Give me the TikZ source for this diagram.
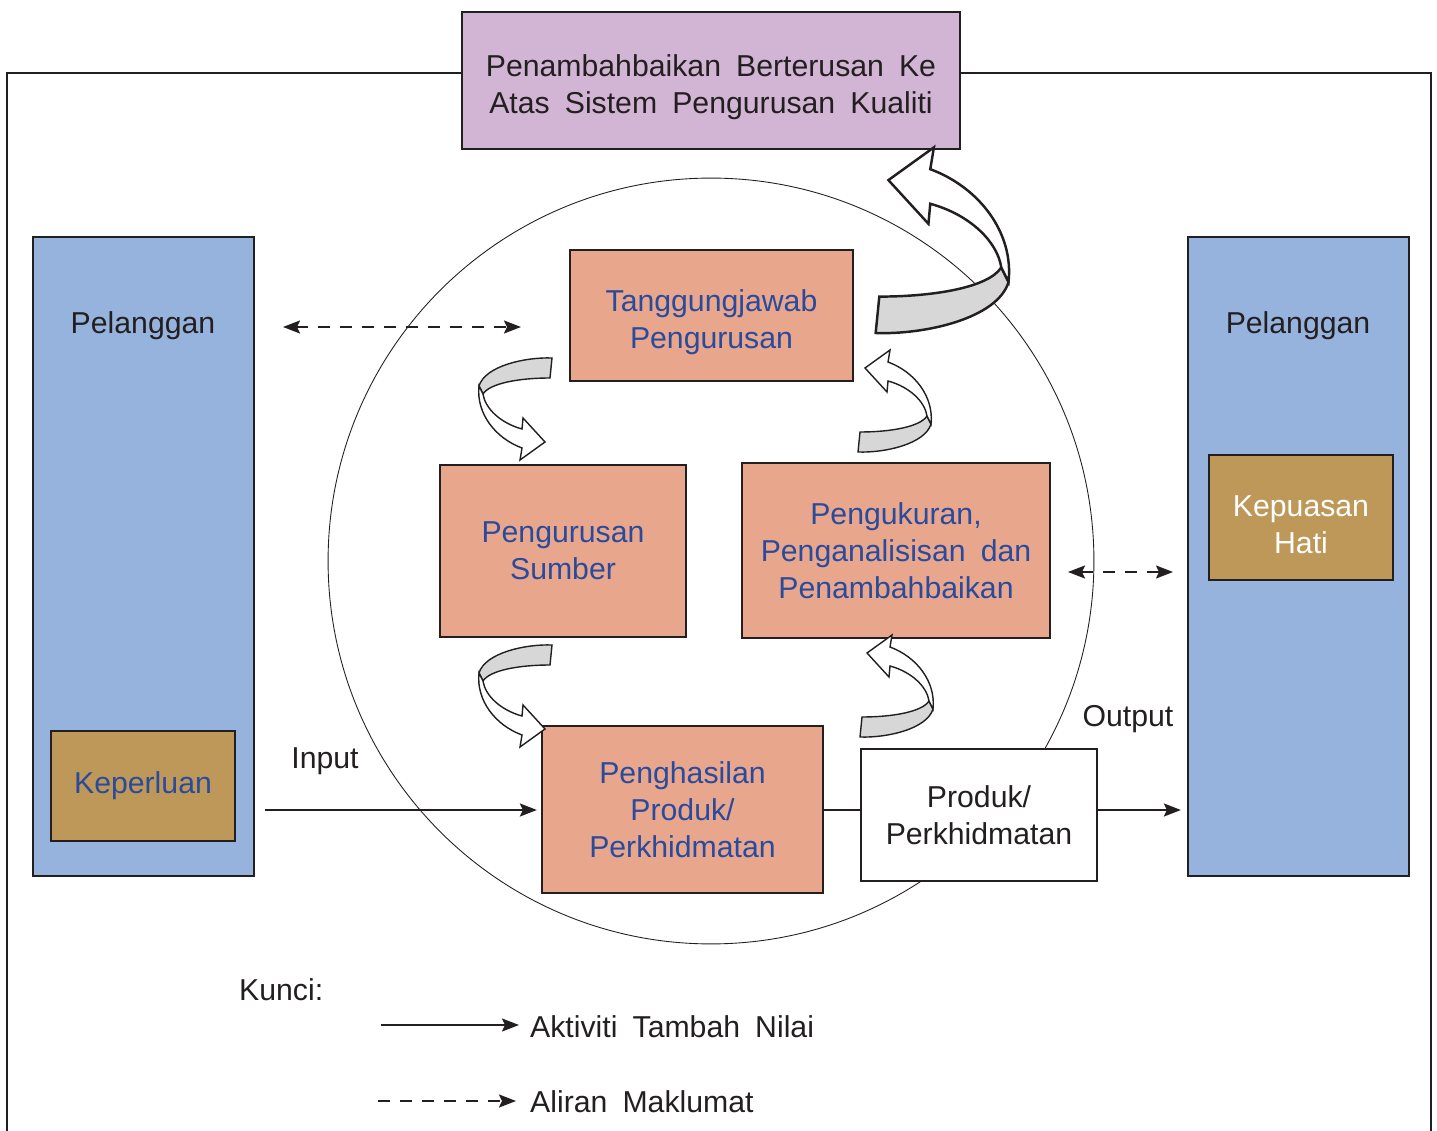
\documentclass[tikz,border=0pt]{standalone}
\usepackage{fontspec}
\setmainfont{Liberation Sans}[WordSpace=1.8]
\usetikzlibrary{arrows.meta}

\definecolor{custblue}{HTML}{95B3DC}
\definecolor{gold}{HTML}{BE9858}
\definecolor{salmon}{HTML}{E8A68D}
\definecolor{lilac}{HTML}{D2B5D4}
\definecolor{inkblue}{HTML}{2A4A9C}
\definecolor{ink}{HTML}{231F20}
\definecolor{ribbongray}{HTML}{D7D7D7}

\newcommand{\ribbonarrow}{%
  \filldraw[fill=ribbongray] (37,-50) .. controls (10,-51) and (-30,-42) .. (-36,-22)
    -- (-32,-14) .. controls (-25,-25) and (5,-30) .. (35,-30) -- cycle;
  \filldraw[fill=white] (-36,-22) .. controls (-39,5) and (-20,30) .. (7,40)
    -- (5,52) -- (30,34) -- (8,10) -- (7,21)
    .. controls (-15,15) and (-30,0) .. (-32,-14) -- cycle;
}
\newcommand{\lowstrut}{\rule{0pt}{20pt}}

\begin{document}
\begin{tikzpicture}[x=0.02cm, y=-0.02cm,
  >={Stealth[length=0.34cm, width=0.26cm, inset=0.06cm]},
  every node/.style={font=\fontsize{17.2}{21}\selectfont, text=ink},
  box/.style={draw=ink, line width=1.3pt, align=center, inner sep=2pt},
  procbox/.style={box, fill=salmon, text=inkblue},
  custcol/.style={draw=ink, line width=1.3pt, fill=custblue, minimum width=4.42cm, minimum height=12.78cm},
  needbox/.style={box, fill=gold, minimum width=3.68cm},
  flow/.style={line width=1.1pt, draw=ink, ->},
  info/.style={flow, dash pattern=on 0.24cm off 0.2cm},
  ribbon/.style={draw=ink, line width=0.8pt}]

  \useasboundingbox (0,0) rectangle (1437,1131);

  % frame and circle
  \draw[ink, line width=1.1pt] (7,1131) -- (7,73) -- (1431,73) -- (1431,1131);
  \draw[ink, line width=0.5pt] (711,561) circle[radius=7.66cm];

  % customers
  \node[custcol] (leftcol) at (143.5,556.5) {};
  \node[custcol] (rightcol) at (1298.5,556.5) {};
  \node (custL) at (143,326) {Pelanggan};
  \node (custR) at (1298,326) {Pelanggan};
  \node[needbox, minimum height=2.2cm, text=inkblue] (need) at (143,786) {Keperluan};
  \node[needbox, minimum height=2.5cm, text=white] (satis) at (1301,517.5) {\lowstrut Kepuasan\\Hati};

  % top box
  \node[box, fill=lilac, minimum width=9.96cm, minimum height=2.74cm] (improve) at (711,80.5)
    {\lowstrut Penambahbaikan Berterusan Ke\\Atas Sistem Pengurusan Kualiti};

  % process boxes
  \node[procbox, minimum width=5.66cm, minimum height=2.62cm] (mgmt) at (711.5,315.5) {\lowstrut Tanggungjawab\\Pengurusan};
  \node[procbox, minimum width=4.92cm, minimum height=3.44cm] (resource) at (563,551) {Pengurusan\\Sumber};
  \node[procbox, minimum width=6.16cm, minimum height=3.5cm] (measure) at (896,550.5)
    {Pengukuran,\\Penganalisisan dan\\Penambahbaikan};
  \node[procbox, minimum width=5.62cm, minimum height=3.34cm] (pengh) at (682.5,809.5)
    {Penghasilan\\Produk/\\Perkhidmatan};
  \node[box, fill=white, minimum width=4.72cm, minimum height=2.64cm] (produk) at (979,815)
    {Produk/\\Perkhidmatan};

  \node (inLabel) at (325,761) {Input};
  \node (outLabel) at (1128,719) {Output};

  % flows
  \coordinate (inStart) at (265,810);
  \draw[flow, shorten >=0.08cm] (inStart) -- (pengh.west |- inStart);
  \draw[ink, line width=1.1pt] (pengh.east |- inStart) -- (produk.west |- inStart);
  \draw[flow, shorten >=0.12cm] (produk.east |- inStart) -- (rightcol.west |- inStart);

  \coordinate (infoL1) at (283,327);
  \coordinate (infoL2) at (521,327);
  \coordinate (infoR1) at (1068,572);
  \coordinate (infoR2) at (1173,572);
  \draw[info, <->] (infoL1) -- (infoL2);
  \draw[info, <->] (infoR1) -- (infoR2);

  % ribbon arrows
  \begin{scope}[shift={(515,408)}, ribbon]
    \ribbonarrow
  \end{scope}
  \begin{scope}[shift={(515,695)}, ribbon]
    \ribbonarrow
  \end{scope}
  \begin{scope}[shift={(895,402)}, rotate=180, ribbon]
    \ribbonarrow
  \end{scope}
  \begin{scope}[shift={(897,687)}, rotate=180, ribbon]
    \ribbonarrow
  \end{scope}
  \begin{scope}[shift={(943,242)}, rotate=180, scale=1.82, ribbon, line width=1.4pt]
    \ribbonarrow
  \end{scope}

  % key
  \node[anchor=west] (key) at (233,990) {Kunci:};
  \node[anchor=west] (valueLabel) at (524,1027) {Aktiviti Tambah Nilai};
  \node[anchor=west] (infoLabel) at (524,1102) {Aliran Maklumat};
  \coordinate (valueStart) at (381,1025);
  \coordinate (infoStart) at (378,1101);
  \draw[flow, shorten >=0.1cm] (valueStart) -- (valueStart -| valueLabel.west);
  \draw[info, shorten >=0.16cm] (infoStart) -- (infoStart -| infoLabel.west);
\end{tikzpicture}
\end{document}
